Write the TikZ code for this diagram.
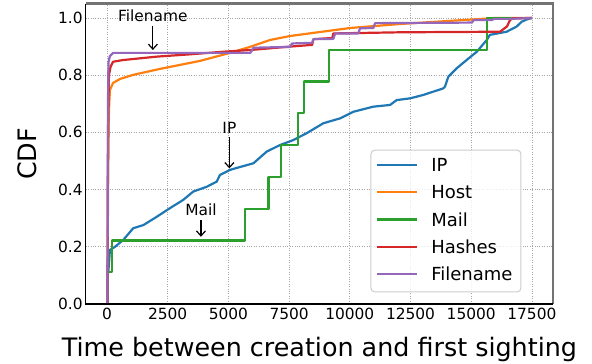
\documentclass[tikz,border=0pt]{standalone}
\usepackage{fontspec}
\setmainfont{DejaVu Sans}
\usetikzlibrary{positioning,arrows.meta}

\definecolor{ipblue}{HTML}{1F77B4}
\definecolor{hostorange}{HTML}{FF7F0E}
\definecolor{mailgreen}{HTML}{2CA02C}
\definecolor{hashred}{HTML}{D62728}
\definecolor{filepurple}{HTML}{9467BD}

\tikzset{
  curve/.style={line width=2.2pt, line join=round},
  gridline/.style={black!35, line width=0.8pt, dash pattern=on 1pt off 1.4pt},
  ticklabel/.style={font=\fontsize{15.4}{18}\selectfont, inner sep=0pt},
  axislabel/.style={font=\fontsize{25.4}{30}\selectfont, inner sep=0pt},
  annot/.style={font=\fontsize{15.4}{18}\selectfont, inner sep=4pt},
  legendtext/.style={font=\fontsize{18}{21}\selectfont, inner sep=0pt},
  legendframe/.style={draw=black!20, fill=white, fill opacity=0.8, line width=1pt, rounded corners=4pt},
  pointer/.style={line width=1.2pt, -{Straight Barb[length=5pt,width=9pt]}}
}

\begin{document}
\begin{tikzpicture}
    \useasboundingbox (0,0) rectangle (592pt,364pt);
    \begin{scope}[shift={(107pt,60pt)}, x=24.28pt, y=286pt]
        % grid
        \foreach \x in {0,2.5,5,7.5,10,12.5,15,17.5}
            \draw[gridline] (\x,0) -- (\x,1.05);
        \foreach \y in {0,0.2,0.4,0.6,0.8,1.0}
            \draw[gridline] (-0.875,\y) -- (18.375,\y);

        % tick labels
        \foreach \x/\t [count=\i] in {0/0,2.5/2500,5/5000,7.5/7500,10/10000,12.5/12500,15/15000,17.5/17500}
            \node[ticklabel, anchor=base, yshift=-16pt] (xt\i) at (\x,0) {\t};
        \foreach \y [count=\i] in {0.0,0.2,0.4,0.6,0.8,1.0}
            \node[ticklabel, anchor=base east, xshift=-3pt, yshift=-5.6pt] (yt\i) at (-0.875,\y) {\y};

        % curves
        \draw[curve, ipblue] plot coordinates {(0.05,0.108) (0.08,0.14) (0.12,0.189) (0.33,0.2) (0.67,0.224) (1.08,0.265) (1.5,0.276) (2.05,0.305) (2.59,0.335) (3.14,0.364) (3.55,0.393) (4.11,0.41) (4.52,0.428) (4.65,0.451) (5.07,0.469) (5.48,0.479) (6.03,0.492) (6.58,0.533) (7.13,0.556) (7.67,0.573) (8.22,0.597) (8.91,0.632) (9.6,0.649) (10.14,0.672) (10.97,0.69) (11.66,0.696) (11.93,0.713) (12.48,0.719) (13.03,0.731) (13.85,0.754) (13.92,0.76) (14.06,0.795) (14.4,0.824) (14.81,0.853) (15.23,0.882) (15.64,0.923) (15.77,0.941) (16.46,0.952) (16.87,0.97) (17.08,0.987) (17.29,0.995) (17.5,1)};
        \draw[curve, hostorange] plot coordinates {(0.02,0) (0.04,0.364) (0.08,0.678) (0.12,0.748) (0.25,0.773) (0.54,0.787) (1.07,0.801) (2.18,0.822) (3.83,0.85) (5.07,0.878) (5.89,0.899) (6.71,0.923) (7.54,0.937) (8.77,0.951) (10.01,0.965) (12.07,0.979) (14.13,0.99) (15.65,0.998) (15.98,1) (17.5,1)};
        \draw[curve, mailgreen] plot coordinates {(0.04,0) (0.04,0.111) (0.22,0.111) (0.22,0.222) (5.7,0.222) (5.7,0.333) (6.65,0.333) (6.65,0.444) (7.15,0.444) (7.15,0.556) (7.85,0.556) (7.85,0.667) (8.13,0.667) (8.13,0.778) (9.14,0.778) (9.14,0.889) (15.66,0.889) (15.66,1) (17.5,1)};
        \draw[curve, hashred] plot coordinates {(0.02,0) (0.04,0.6) (0.08,0.8) (0.15,0.83) (0.25,0.847) (0.66,0.853) (2.06,0.865) (3.42,0.873) (4.78,0.882) (5.89,0.888) (7.54,0.9) (8.45,0.906) (8.5,0.926) (9.28,0.93) (9.32,0.946) (12.07,0.95) (16.19,0.952) (16.31,0.96) (16.47,0.97) (16.6,0.993) (16.72,0.999) (17.5,1)};
        \draw[curve, filepurple] plot coordinates {(0.02,0) (0.04,0.7) (0.06,0.846) (0.12,0.867) (0.25,0.878) (5.89,0.878) (5.96,0.885) (6.03,0.896) (7.54,0.899) (7.62,0.911) (8.45,0.913) (8.5,0.926) (9.32,0.927) (9.4,0.946) (10.35,0.946) (10.42,0.964) (10.97,0.965) (11.04,0.982) (15.03,0.984) (15.11,0.993) (15.86,0.993) (15.94,0.997) (16.6,0.997) (17.5,1)};

        % axes frame
        \draw[black!55, line width=2.4pt] (-0.875,1.05) -- (18.375,1.05) -- (18.375,0);
        \draw[black, line width=1.2pt] (-0.875,1.05) -- (-0.875,0) -- (18.375,0);

        % annotations
        \node[annot] (lblfile) at (1.89,1.007) {Filename};
        \coordinate (filetip) at (1.89,0.888);
        \node[annot] (lblip) at (5.04,0.617) {IP};
        \coordinate (iptip) at (5.04,0.474);
        \node[annot] (lblmail) at (3.87,0.329) {Mail};
        \coordinate (mailtip) at (3.87,0.235);
        \draw[pointer] (lblfile) -- (filetip);
        \draw[pointer] (lblip) -- (iptip);
        \draw[pointer] (lblmail) -- (mailtip);

        % legend
        \draw[legendframe] (10.87,0.042) rectangle (17.05,0.538);
        \foreach \name/\col [count=\i] in {IP/ipblue,Host/hostorange,Mail/mailgreen,Hashes/hashred,Filename/filepurple}{
            \coordinate (hs\i) at (11.12,0.486-0.0953*\i+0.0953);
            \coordinate (he\i) at (12.77,0.486-0.0953*\i+0.0953);
            \draw[curve, \col] (hs\i) -- (he\i);
            \node[legendtext, right=14pt of he\i] (lg\i) {\name};
        }

        % axis labels
        \node[axislabel, anchor=base] (xlabel) at (8.75,-0.184) {Time between creation and first sighting};
        \node[axislabel, rotate=90] (ylabel) at (-3.295,0.525) {CDF};
    \end{scope}
\end{tikzpicture}
\end{document}
